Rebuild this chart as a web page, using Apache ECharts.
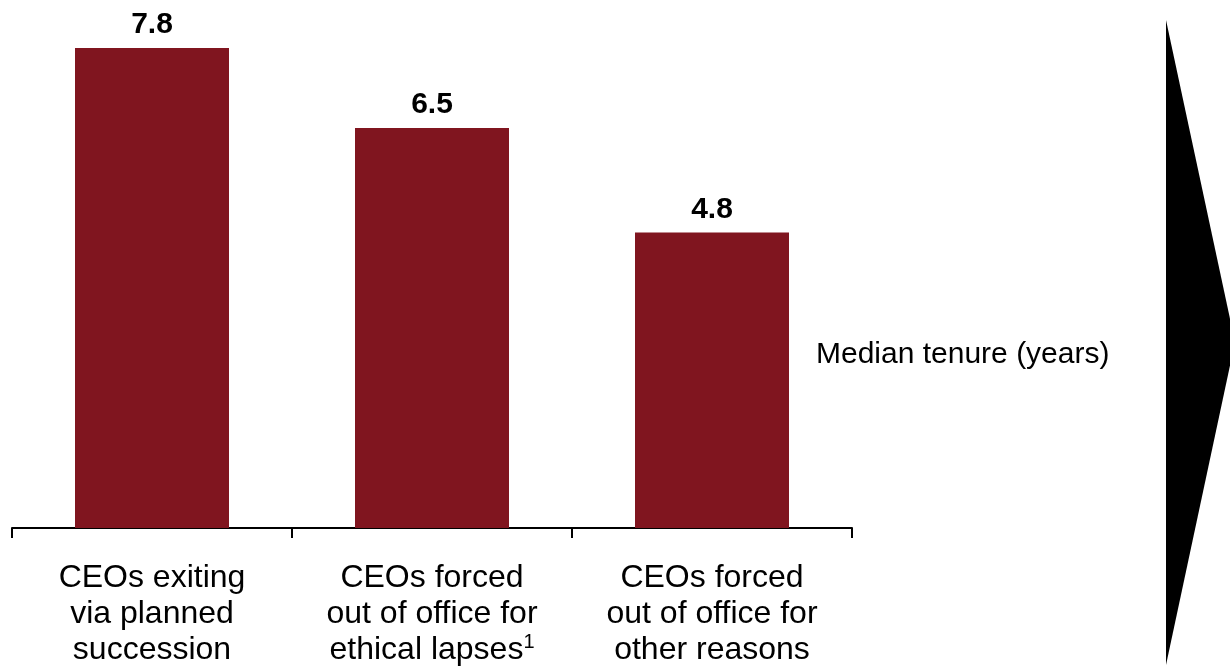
<!DOCTYPE html>
<html>
<head>
<meta charset="utf-8">
<script src="https://cdn.jsdelivr.net/npm/echarts@6/dist/echarts.min.js"></script>
<style>
  html, body { margin: 0; padding: 0; background: #fff; }
  #chart { width: 1230px; height: 668px; }
</style>
</head>
<body>
<div id="chart"></div>
<script>
// Exit type categories and median CEO tenure in years
const categories = [
  'CEOs exiting\nvia planned\nsuccession',
  'CEOs forced\nout of office for\nethical lapses{sup|1}',
  'CEOs forced\nout of office for\nother reasons'
];
const medianTenure = [7.8, 6.5, 4.8];
const measureLabel = 'Median tenure (years)';

const FONT = '"Liberation Sans", Arial, sans-serif';
const chart = echarts.init(document.getElementById('chart'), null, { renderer: 'canvas' });

chart.setOption({
  animation: false,
  backgroundColor: '#ffffff',
  grid: { left: 12, right: 378, top: 48, bottom: 140, containLabel: false },
  xAxis: {
    type: 'category',
    data: categories,
    axisLine: { show: true, lineStyle: { color: '#000', width: 2 } },
    axisTick: { show: true, length: 10, lineStyle: { color: '#000', width: 2 } },
    axisLabel: {
      interval: 0,
      margin: 32,
      color: '#000',
      fontFamily: FONT,
      fontSize: 32,
      lineHeight: 36,
      align: 'center',
      rich: {
        sup: { fontSize: 20, fontFamily: FONT, color: '#000', verticalAlign: 'top', padding: [0, 0, 14, 0] }
      }
    }
  },
  yAxis: {
    type: 'value',
    min: 0,
    max: 7.8,
    show: false
  },
  series: [{
    type: 'bar',
    data: medianTenure,
    barWidth: '55%',
    itemStyle: { color: '#80151F' },
    label: {
      show: true,
      position: 'top',
      distance: 8,
      color: '#000',
      fontFamily: FONT,
      fontWeight: 'bold',
      fontSize: 30,
      formatter: p => p.value.toFixed(1)
    }
  }],
  graphic: [
    {
      type: 'text',
      left: 816,
      top: 340,
      style: { text: measureLabel, fontFamily: FONT, fontSize: 30, fill: '#000' }
    },
    {
      type: 'polygon',
      shape: { points: [[1166, 20], [1235, 342], [1166, 665]] },
      style: { fill: '#000' }
    }
  ]
});
</script>
</body>
</html>
